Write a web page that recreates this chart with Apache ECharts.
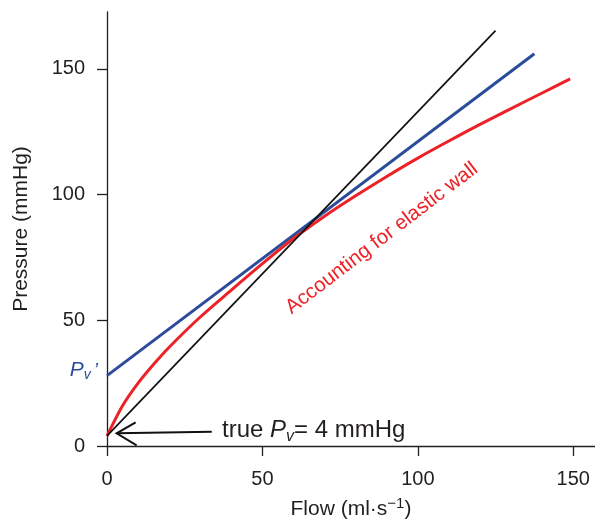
<!DOCTYPE html>
<html>
<head>
<meta charset="utf-8">
<script src="https://cdn.jsdelivr.net/npm/echarts@6/dist/echarts.min.js"></script>
<style>
html,body{margin:0;padding:0;background:#fff;}
#c{width:595px;height:519px;}
</style>
</head>
<body>
<div id="c"></div>
<script>
// ---- data ----
const xTicks = [0, 50, 100, 150];
const yTicks = [0, 50, 100, 150];
const blackLine = [[0, 4], [125, 165.2]];
const blueLine = [[0, 28], [137.5, 156]];
const redCurve = [[0, 4], [5, 16], [10, 25], [15, 32.5], [20, 39.3], [30, 51.3], [40, 62],
                  [50, 72.5], [60, 82.5], [70, 91.4], [80, 99.5], [90, 107.2], [100, 114.5],
                  [110, 121.3], [120, 127.9], [130, 134.2], [140, 140.4], [149, 146]];

const FONT = '"Liberation Sans", Arial, Helvetica, sans-serif';
const INK = '#231f20';
const RED = '#ec2227';
const BLUE = '#2b4b9b';

const chart = echarts.init(document.getElementById('c'), null, {renderer: 'canvas'});

const option = {
  animation: false,
  backgroundColor: '#fff',
  grid: {left: 107, right: 0, top: 12, bottom: 73, containLabel: false, outerBoundsMode: 'none'},
  xAxis: {
    type: 'value', min: 0, max: 157,
    name: 'Flow (ml·s{sup|−1})', nameLocation: 'middle', nameGap: 50,
    nameTextStyle: {fontFamily: FONT, fontSize: 21, color: INK, lineHeight: 26,
      rich: {sup: {fontFamily: FONT, fontSize: 15, color: INK, lineHeight: 14, verticalAlign: 'top'}}},
    axisLine: {show: true, onZero: false, lineStyle: {color: INK, width: 1.3}},
    axisTick: {show: true, length: 10, customValues: xTicks, lineStyle: {color: INK, width: 1.3}},
    axisLabel: {customValues: xTicks, margin: 23, fontFamily: FONT, fontSize: 20, color: INK},
    splitLine: {show: false}
  },
  yAxis: {
    type: 'value', min: 0, max: 172.6,
    name: 'Pressure (mmHg)', nameLocation: 'middle', nameGap: 75,
    nameTextStyle: {fontFamily: FONT, fontSize: 21, color: INK},
    axisLine: {show: true, onZero: false, lineStyle: {color: INK, width: 1.3}},
    axisTick: {show: true, length: 10, customValues: yTicks, lineStyle: {color: INK, width: 1.3}},
    axisLabel: {customValues: yTicks, margin: 22, fontFamily: FONT, fontSize: 20, color: INK, padding: [8, 0, 0, 0]},
    splitLine: {show: false}
  },
  series: [
    {
      type: 'line', name: 'blue', showSymbol: false, symbol: 'none',
      lineStyle: {color: BLUE, width: 3},
      data: blueLine
    },
    {
      type: 'line', name: 'red', showSymbol: false, symbol: 'none', smooth: 0.3,
      lineStyle: {color: RED, width: 3},
      data: redCurve
    },
    {
      type: 'line', name: 'black', showSymbol: false, symbol: 'none',
      lineStyle: {color: '#111', width: 1.7},
      data: blackLine
    }
  ]
};
chart.setOption(option);

function px(p) { return chart.convertToPixel({gridIndex: 0}, p); }

const tip = px([3.1, 5.05]);
const tail = px([33.7, 5.7]);
const textPos = px([37.0, 6.2]);
const wallPos = px([88.4, 82.6]);
const pvPos = px(blueLine[0]);

chart.setOption({
  graphic: [
    {
      type: 'polyline', silent: true,
      shape: {points: [tip, tail]},
      style: {stroke: '#111', lineWidth: 2, fill: null}
    },
    {
      type: 'polyline', silent: true,
      shape: {points: [[tip[0] + 19, tip[1] - 11], tip, [tip[0] + 20, tip[1] + 12]]},
      style: {stroke: '#111', lineWidth: 2, fill: null}
    },
    {
      type: 'text', silent: true,
      x: textPos[0], y: textPos[1],
      style: {
        text: '{n|true }{i|P}{s|v}{n|= 4 mmHg}',
        align: 'left', verticalAlign: 'middle',
        rich: {
          n: {fontFamily: FONT, fontSize: 24, fill: INK, lineHeight: 28},
          i: {fontFamily: FONT, fontStyle: 'italic', fontSize: 24, fill: INK, lineHeight: 28},
          s: {fontFamily: FONT, fontStyle: 'italic', fontSize: 16, fill: INK, lineHeight: 17, verticalAlign: 'bottom'}
        }
      }
    },
    {
      type: 'text', silent: true,
      x: pvPos[0] - 9, y: pvPos[1] - 5,
      style: {
        text: '{i|P}{s|v}{p|’}',
        align: 'right', verticalAlign: 'middle',
        rich: {
          i: {fontFamily: FONT, fontStyle: 'italic', fontSize: 21, fill: BLUE, lineHeight: 24},
          s: {fontFamily: FONT, fontStyle: 'italic', fontSize: 14, fill: BLUE, lineHeight: 14, verticalAlign: 'bottom'},
          p: {fontFamily: FONT, fontStyle: 'italic', fontSize: 19, fill: BLUE, lineHeight: 24, padding: [0, 0, 0, 3]}
        }
      }
    },
    {
      type: 'text', silent: true,
      x: wallPos[0], y: wallPos[1],
      rotation: 37.4 * Math.PI / 180,
      style: {
        text: 'Accounting for elastic wall',
        fontFamily: FONT, fontSize: 20.5, fill: RED,
        align: 'center', verticalAlign: 'middle'
      }
    }
  ]
});
</script>
</body>
</html>
